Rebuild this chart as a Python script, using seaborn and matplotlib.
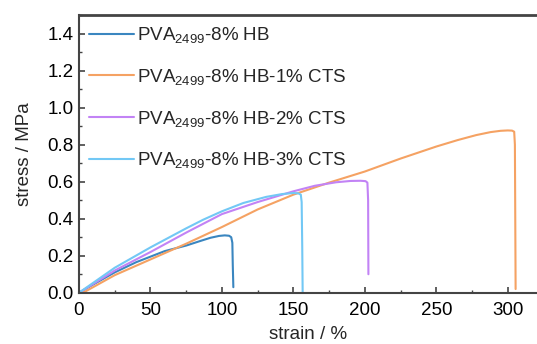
import matplotlib
matplotlib.use("Agg")
import matplotlib.pyplot as plt
from matplotlib.ticker import MultipleLocator, FormatStrFormatter
import pandas as pd
import seaborn as sns

sns.set_theme(style="ticks")
plt.rcParams["font.family"] = ["Liberation Sans", "DejaVu Sans"]
plt.rcParams["mathtext.fontset"] = "custom"
plt.rcParams["mathtext.rm"] = "Liberation Sans"
plt.rcParams["mathtext.it"] = "Liberation Sans"

labels = [
    "PVA$_{2499}$-8% HB",
    "PVA$_{2499}$-8% HB-1% CTS",
    "PVA$_{2499}$-8% HB-2% CTS",
    "PVA$_{2499}$-8% HB-3% CTS",
]
colors = ["#3a86c0", "#f5a263", "#c283f5", "#72c8f5"]

# stress-strain curves (strain in %, stress in MPa)
hb_strain = [0, 10, 25, 40, 50, 60, 75, 85, 92, 98, 102, 105, 106.5, 107.3, 107.6, 108]
hb_stress = [0, 0.045, 0.11, 0.165, 0.195, 0.225, 0.255, 0.28, 0.297, 0.307, 0.31, 0.308, 0.3, 0.27, 0.15, 0.03]

cts1_strain = [0, 4, 25, 50, 75, 100, 125, 150, 175, 200, 225, 250, 265, 278, 288, 295, 300, 303, 304.5, 305, 305.5]
cts1_stress = [0, 0.005, 0.095, 0.18, 0.265, 0.355, 0.45, 0.53, 0.595, 0.655, 0.725, 0.79, 0.825, 0.852, 0.868, 0.875, 0.877, 0.876, 0.87, 0.8, 0.02]

cts2_strain = [0, 25, 50, 75, 100, 125, 150, 165, 180, 190, 197, 200.5, 201.8, 202.3, 202.5]
cts2_stress = [0, 0.12, 0.22, 0.325, 0.425, 0.49, 0.548, 0.578, 0.597, 0.604, 0.605, 0.603, 0.595, 0.5, 0.1]

cts3_strain = [0, 25, 50, 75, 87, 100, 115, 131, 142, 150, 153.5, 155.2, 155.8, 156.2, 156.5]
cts3_stress = [0, 0.135, 0.245, 0.348, 0.395, 0.44, 0.485, 0.518, 0.533, 0.539, 0.537, 0.53, 0.49, 0.25, 0.0]

series = [
    (hb_strain, hb_stress),
    (cts1_strain, cts1_stress),
    (cts2_strain, cts2_stress),
    (cts3_strain, cts3_stress),
]

frames = []
for lab, (sx, sy) in zip(labels, series):
    frames.append(pd.DataFrame({"strain": sx, "stress": sy, "sample": lab}))
df = pd.concat(frames, ignore_index=True)

fig = plt.figure(figsize=(5.37, 3.44), dpi=100)
ax = fig.add_axes([0.1471, 0.149, 0.853, 0.807])

sns.lineplot(data=df, x="strain", y="stress", hue="sample", hue_order=labels,
             palette=colors, sort=False, estimator=None, linewidth=1.5, ax=ax)

ax.set_xlim(0, 320.5)
ax.set_ylim(0, 1.5)
ax.xaxis.set_major_locator(MultipleLocator(50))
ax.xaxis.set_minor_locator(MultipleLocator(25))
ax.yaxis.set_major_locator(MultipleLocator(0.2))
ax.yaxis.set_minor_locator(MultipleLocator(0.1))
ax.yaxis.set_major_formatter(FormatStrFormatter("%.1f"))

ax.tick_params(which="major", direction="in", length=4, width=1.2, color="#444444",
               labelsize=13.5, labelcolor="black")
ax.tick_params(axis="x", which="major", pad=7)
ax.tick_params(axis="y", which="major", pad=4)
ax.tick_params(which="minor", direction="in", length=2.5, width=1.0, color="#444444")

for side in ["left", "bottom", "top"]:
    ax.spines[side].set_color("#444444")
    ax.spines[side].set_linewidth(1.5)
ax.spines["top"].set_linewidth(2.0)
ax.spines["right"].set_visible(False)

ax.set_xlabel("strain / %", fontsize=13.5, labelpad=5)
ax.set_ylabel("stress / MPa", fontsize=13.5, labelpad=10)

ax.legend(loc="upper left", bbox_to_anchor=(0.005, 0.99), frameon=False,
          fontsize=13.5, handlelength=2.4, handletextpad=0.15, labelspacing=1.15,
          borderaxespad=0)

fig.savefig("out.png", dpi=100)
